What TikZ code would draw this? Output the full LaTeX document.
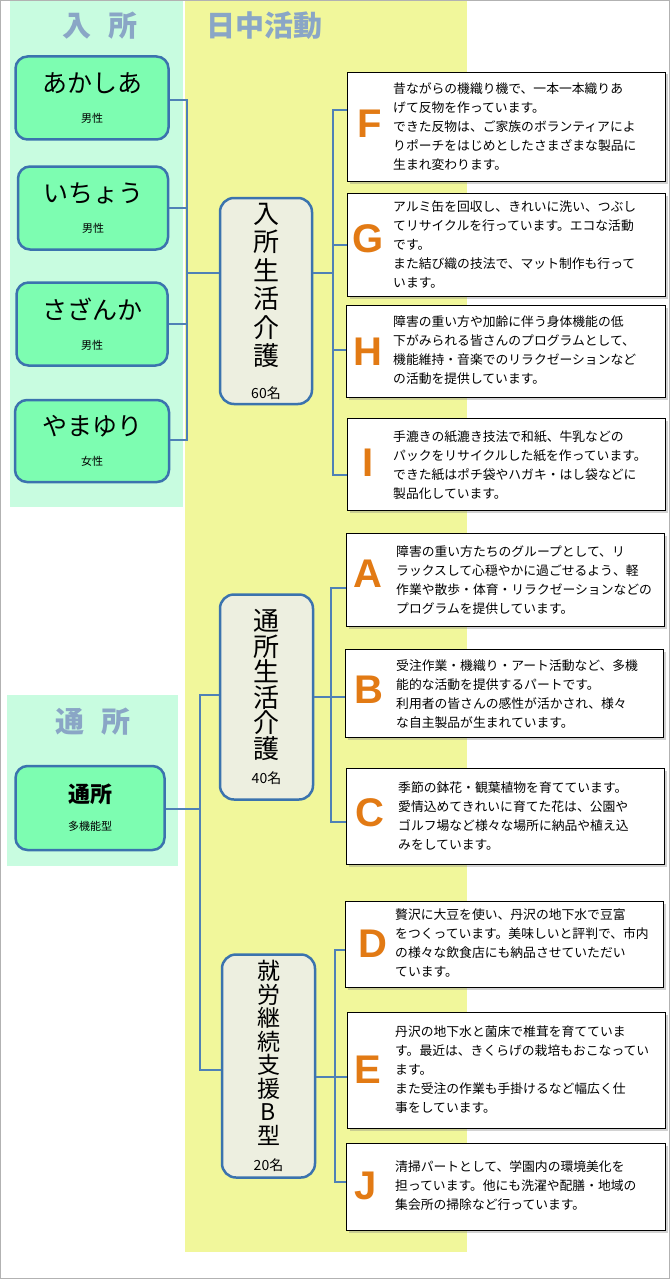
\documentclass[tikz,border=0pt]{standalone}
\usepackage{fontspec}
\setmainfont{Noto Sans CJK JP}
\newfontfamily\latinb{Liberation Sans}
\usetikzlibrary{shadows}
\definecolor{mint}{HTML}{C8FCE0}
\definecolor{yel}{HTML}{F1F79B}
\definecolor{grn}{HTML}{7DFDB1}
\definecolor{bl}{HTML}{3B73AE}
\definecolor{mid}{HTML}{EDEFE0}
\definecolor{ttl}{HTML}{8AA6C6}
\definecolor{org}{HTML}{E27A14}
\tikzset{
 res/.style={draw=bl,line width=2.5pt,rounded corners=12pt,fill=grn,align=center,inner sep=0pt,font=\fontsize{25}{28}\selectfont},
 midbox/.style={draw=bl,line width=2.5pt,rounded corners=14pt,fill=mid,align=center,inner sep=0pt},
 desc/.style={draw=black,line width=0.8pt,fill=white,inner sep=0pt,drop shadow={opacity=0.35,shadow xshift=2.5pt,shadow yshift=-2.5pt}},
 txt/.style={anchor=west,align=left,font=\fontsize{12.8}{19}\selectfont,inner sep=0pt},
 lett/.style={font=\latinb\bfseries\fontsize{40}{40}\selectfont,text=org},
 conn/.style={draw=bl!90,line width=2.5pt},
 ttlt/.style={font=\bfseries\fontsize{29}{29}\selectfont,text=ttl}
}
\begin{document}
\begin{tikzpicture}[x=1pt,y=-1pt]
\useasboundingbox (0,0) rectangle (670,1279);
\fill[white] (0,0) rectangle (670,1279);
\fill[mint] (10,0) rectangle (183,507);
\fill[yel] (185,0) rectangle (467,1252);
\fill[mint] (7,695) rectangle (178,866);
\draw[gray!60,line width=1pt] (0.5,0.5) rectangle (669.5,1278.5);
\node[ttlt] (t1) at (100,26) {入\hspace{0.6em}所};
\node[ttlt] (t2) at (264,26) {日中活動};
\node[ttlt] (t3) at (93,722) {通\hspace{0.6em}所};
% left boxes
\node[res,minimum width=153pt,minimum height=83pt] (ak) at (92,98) {あかしあ\\[2pt]\fontsize{11}{13}\selectfont 男性};
\node[res,minimum width=150pt,minimum height=83pt] (ic) at (93,208) {いちょう\\[2pt]\fontsize{11}{13}\selectfont 男性};
\node[res,minimum width=151pt,minimum height=83pt] (sa) at (92,324) {さざんか\\[2pt]\fontsize{11}{13}\selectfont 男性};
\node[res,minimum width=154pt,minimum height=82pt] (ya) at (92,441) {やまゆり\\[2pt]\fontsize{11}{13}\selectfont 女性};
\node[res,minimum width=149pt,minimum height=84pt,font=\fontsize{22}{26}\selectfont\bfseries] (ts) at (90,808) {通所\\[2pt]\mdseries\fontsize{11}{13}\selectfont 多機能型};
% middle
\node[midbox,minimum width=92pt,minimum height=206pt,font=\fontsize{26}{28.5}\selectfont] (m1) at (266,301) {入\\所\\生\\活\\介\\護\\[4pt]\fontsize{14}{16}\selectfont 60名};
\node[midbox,minimum width=93pt,minimum height=205pt,font=\fontsize{26}{25.5}\selectfont] (m2) at (266.5,697) {通\\所\\生\\活\\介\\護\\\fontsize{14}{16}\selectfont 40名};
\node[midbox,minimum width=93pt,minimum height=223pt,font=\fontsize{23}{23.5}\selectfont] (m3) at (268.5,1066) {就\\労\\継\\続\\支\\援\\B\\型\\[3pt]\fontsize{14}{16}\selectfont 20名};
% desc boxes
\node[desc,minimum width=318pt,minimum height=109pt] (F) at (506,126.5) {};
\node[desc,minimum width=318pt,minimum height=103pt] (G) at (506,244.5) {};
\node[desc,minimum width=319pt,minimum height=92pt] (H) at (505.5,351) {};
\node[desc,minimum width=318pt,minimum height=92pt] (I) at (506,464) {};
\node[desc,minimum width=318pt,minimum height=93pt] (A) at (505,579.5) {};
\node[desc,minimum width=318pt,minimum height=88pt] (B) at (504,693) {};
\node[desc,minimum width=318pt,minimum height=96pt] (C) at (505,816) {};
\node[desc,minimum width=318pt,minimum height=86pt] (D) at (504,944) {};
\node[desc,minimum width=318pt,minimum height=116pt] (E) at (506,1070) {};
\node[desc,minimum width=319pt,minimum height=87pt] (J) at (505.5,1186.5) {};
% letters
\node[lett] (lF) at (370,124) {F};
\node[lett] (lG) at (368,239) {G};
\node[lett] (lH) at (368,352) {H};
\node[lett] (lI) at (368,463) {I};
\node[lett] (lA) at (368,574) {A};
\node[lett] (lB) at (369,690) {B};
\node[lett] (lC) at (370,813) {C};
\node[lett] (lD) at (373,944) {D};
\node[lett] (lE) at (368,1070) {E};
\node[lett] (lJ) at (366,1186) {J};
% texts
\node[txt] (xF) at (393,127) {昔ながらの機織り機で、一本一本織りあ\\げて反物を作っています。\\できた反物は、ご家族のボランティアによ\\りポーチをはじめとしたさまざまな製品に\\生まれ変わります。};
\node[txt] (xG) at (393,244) {アルミ缶を回収し、きれいに洗い、つぶし\\てリサイクルを行っています。エコな活動\\です。\\また結び織の技法で、マット制作も行って\\います。};
\node[txt] (xH) at (393,350) {障害の重い方や加齢に伴う身体機能の低\\下がみられる皆さんのプログラムとして、\\機能維持・音楽でのリラクゼーションなど\\の活動を提供しています。};
\node[txt] (xI) at (393,465) {手漉きの紙漉き技法で和紙、牛乳などの\\パックをリサイクルした紙を作っています。\\できた紙はポチ袋やハガキ・はし袋などに\\製品化しています。};
\node[txt] (xA) at (396,580) {障害の重い方たちのグループとして、リ\\ラックスして心穏やかに過ごせるよう、軽\\作業や散歩・体育・リラクゼーションなどの\\プログラムを提供しています。};
\node[txt] (xB) at (396,694) {受注作業・機織り・アート活動など、多機\\能的な活動を提供するパートです。\\利用者の皆さんの感性が活かされ、様々\\な自主製品が生まれています。};
\node[txt] (xC) at (398,816) {季節の鉢花・観葉植物を育てています。\\愛情込めてきれいに育てた花は、公園や\\ゴルフ場など様々な場所に納品や植え込\\みをしています。};
\node[txt] (xD) at (395,943) {贅沢に大豆を使い、丹沢の地下水で豆富\\をつくっています。美味しいと評判で、市内\\の様々な飲食店にも納品させていただい\\ています。};
\node[txt] (xE) at (395,1070) {丹沢の地下水と菌床で椎茸を育てていま\\す。最近は、きくらげの栽培もおこなってい\\ます。\\また受注の作業も手掛けるなど幅広く仕\\事をしています。};
\node[txt] (xJ) at (395,1186) {清掃パートとして、学園内の環境美化を\\担っています。他にも洗濯や配膳・地域の\\集会所の掃除など行っています。};
% connectors
\coordinate (v1) at (187,273);
\draw[conn] (ak.east|-0,100) -| (v1);
\draw[conn] (ic.east|-0,208) -| (v1);
\draw[conn] (sa.east|-0,324) -| (v1);
\draw[conn] (ya.east|-0,440) -| (v1);
\draw[conn] (v1) -- (m1.west|-v1);
\coordinate (v2) at (333,273);
\draw[conn] (m1.east|-v2) -- (v2);
\draw[conn] (F.west|-0,110) -| (v2);
\draw[conn] (G.west|-0,245) -| (v2);
\draw[conn] (H.west|-0,350) -| (v2);
\draw[conn] (I.west|-0,475) -| (v2);
\coordinate (v3) at (200,809);
\draw[conn] (ts.east|-v3) -- (v3);
\draw[conn] (m2.west|-0,695) -| (v3);
\draw[conn] (m3.west|-0,1070) -| (v3);
\coordinate (v4) at (331,697);
\draw[conn] (m2.east|-v4) -- (v4);
\draw[conn] (A.west|-0,588) -| (v4);
\draw[conn] (B.west|-v4) -- (v4);
\draw[conn] (C.west|-0,822) -| (v4);
\coordinate (v5) at (335,1077);
\draw[conn] (m3.east|-v5) -- (v5);
\draw[conn] (D.west|-0,950) -| (v5);
\draw[conn] (E.west|-v5) -- (v5);
\draw[conn] (J.west|-0,1182) -| (v5);
\end{tikzpicture}
\end{document}
